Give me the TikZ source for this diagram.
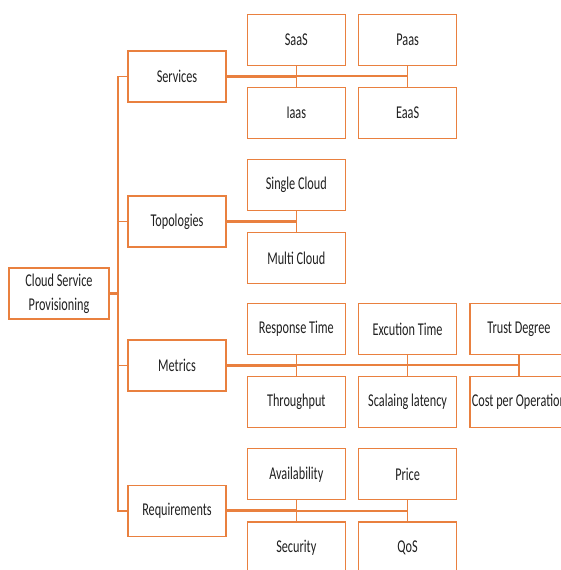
\documentclass[tikz,border=0pt]{standalone}
\usepackage{fontspec}
\setmainfont{Carlito}[FakeStretch=0.68]
\usetikzlibrary{positioning}
\definecolor{boxorange}{HTML}{E9803F}
\definecolor{textgray}{HTML}{202020}

\begin{document}
\begin{tikzpicture}[x=1pt, y=1pt,
     node distance = 21pt and 12pt,
        box/.style = {rectangle, draw=boxorange, line width=1.3pt, fill=white,
                      minimum width=98pt, minimum height=51pt, inner sep=1pt,
                      text=textgray, font=\fontsize{18}{24}\selectfont, align=center},
       link/.style = {draw=boxorange, line width=1.3pt},
       busx/.style = {draw=boxorange, line width=2pt},
      trunk/.style = {draw=boxorange, line width=3pt}
                    ]
\useasboundingbox (0,0) rectangle (561,570);
% root and first level
\node (root)  [box, minimum width=100pt] at (59,276.5) {Cloud Service\\Provisioning};
\node (serv)  [box] at (177,493.5) {Services};
\node (topo)  [box] at (177,348.5) {Topologies};
\node (metr)  [box] at (177,204.5) {Metrics};
\node (reqs)  [box] at (177,59)    {Requirements};
\coordinate (spine) at (118,276.5);
% services
\node (saas)  [box, above right=10.5pt and 20pt of serv.east] {SaaS};
\node (paas)  [box, right=of saas] {Paas};
\node (iaas)  [box, below=of saas] {Iaas};
\node (eaas)  [box, below=of paas] {EaaS};
% topologies
\node (single)[box, above right=10.5pt and 20pt of topo.east] {Single Cloud};
\node (multi) [box, below=of single] {Multi Cloud};
% metrics
\node (resp)  [box, above right=10.5pt and 20pt of metr.east] {Response Time};
\node (exec)  [box, right=of resp] {Excution Time};
\node (trust) [box, right=of exec] {Trust Degree};
\node (thru)  [box, below=of resp] {Throughput};
\node (scal)  [box, below=of exec] {Scalaing latency};
\node (cost)  [box, below=of trust] {Cost per Operation};
% requirements
\node (avail) [box, above right=10.5pt and 20pt of reqs.east] {Availability};
\node (price) [box, right=of avail] {Price};
\node (secu)  [box, below=of avail] {Security};
\node (qos)   [box, below=of price] {QoS};
% spine
\draw[trunk] (root) -- (spine);
\draw[link] (spine) |- (serv);
\draw[link] (spine) |- (topo);
\draw[link] (spine) |- (metr);
\draw[link] (spine) |- (reqs);
% buses
\draw[trunk] (serv) -- (serv.east -| saas.south);
\draw[busx] (serv.east -| saas.south) -- (serv.east -| paas.south);
\draw[link] (saas) -- (iaas);
\draw[link] (paas) -- (eaas);
\draw[trunk] (topo) -- (topo.east -| single.south);
\draw[link] (single) -- (multi);
\draw[trunk] (metr) -- (metr.east -| resp.south);
\draw[busx] (metr.east -| resp.south) -- (metr.east -| trust.south);
\draw[link] (resp) -- (thru);
\draw[link] (exec) -- (scal);
\draw[link] (trust) -- (cost);
\draw[trunk] (reqs) -- (reqs.east -| avail.south);
\draw[busx] (reqs.east -| avail.south) -- (reqs.east -| price.south);
\draw[link] (avail) -- (secu);
\draw[link] (price) -- (qos);
\end{tikzpicture}
\end{document}
